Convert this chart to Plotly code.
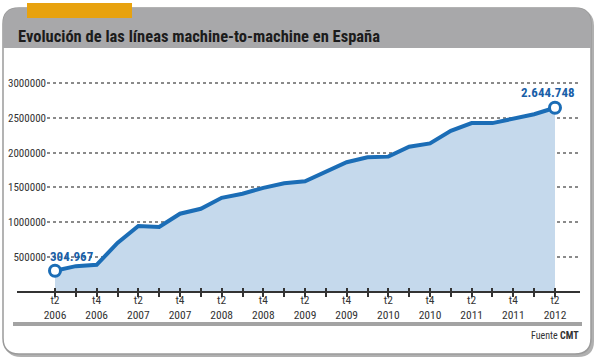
import plotly.graph_objects as go

# ---- data ----
periods = ["t2 2006", "t3 2006", "t4 2006",
           "t1 2007", "t2 2007", "t3 2007", "t4 2007",
           "t1 2008", "t2 2008", "t3 2008", "t4 2008",
           "t1 2009", "t2 2009", "t3 2009", "t4 2009",
           "t1 2010", "t2 2010", "t3 2010", "t4 2010",
           "t1 2011", "t2 2011", "t3 2011", "t4 2011",
           "t1 2012", "t2 2012"]
lines_m2m = [304967, 371000, 390000,
             704000, 947000, 933000, 1124000,
             1195000, 1352000, 1410000, 1495000,
             1562000, 1590000, 1719000, 1862000,
             1933000, 1943000, 2086000, 2133000,
             2314000, 2424000, 2424000, 2495000,
             2552000, 2644748]
y_ticks = [500000, 1000000, 1500000, 2000000, 2500000, 3000000]
quarter_text = [p.split(" ")[0] if p.startswith(("t2", "t4")) else "" for p in periods]
year_text = [p.split(" ")[1] if p.startswith(("t2", "t4")) else "" for p in periods]

title = "Evolución de las líneas machine-to-machine en España"
source = "Fuente <b>CMT</b>"

# ---- layout geometry (pixels) ----
W, H = 600, 363
L, R, T, B = 47, 580, 75, 292
PW, PH = R - L, B - T

def px(x):
    return (x - L) / PW

def py(y):
    return (B - y) / PH

def P(x, y):
    return f"{px(x):.5f},{py(y):.5f}"

def rrect(x0, y0, x1, y1, r):
    return (f"M {P(x0, y0 + r)} Q {P(x0, y0)} {P(x0 + r, y0)} L {P(x1 - r, y0)} "
            f"Q {P(x1, y0)} {P(x1, y0 + r)} L {P(x1, y1 - r)} Q {P(x1, y1)} {P(x1 - r, y1)} "
            f"L {P(x0 + r, y1)} Q {P(x0, y1)} {P(x0, y1 - r)} Z")

def toprect(x0, y0, x1, y1, r):
    return (f"M {P(x0, y1)} L {P(x0, y0 + r)} Q {P(x0, y0)} {P(x0 + r, y0)} L {P(x1 - r, y0)} "
            f"Q {P(x1, y0)} {P(x1, y0 + r)} L {P(x1, y1)} Z")

FONT = "Noto Sans Condensed, Roboto Condensed, Liberation Sans Narrow, Roboto, sans-serif"
BLUE = "#1b6db6"
FILL = "#c5d9ec"

def F(size, color="#333333", weight="normal"):
    return dict(family=FONT, size=size, color=color, weight=weight)

fmt = lambda v: f"{v:,}".replace(",", ".")

fig = go.Figure()
fig.add_trace(go.Scatter(
    x=periods, y=lines_m2m, mode="lines", fill="tozeroy",
    fillcolor=FILL, line=dict(color=BLUE, width=4), hoverinfo="skip"))
fig.add_trace(go.Scatter(
    x=[periods[0], periods[-1]], y=[lines_m2m[0], lines_m2m[-1]], mode="markers",
    marker=dict(size=11, color="white", line=dict(color=BLUE, width=3)),
    hoverinfo="skip"))
# invisible trace for the second (inside tick / year label) axis
fig.add_trace(go.Scatter(x=periods, y=lines_m2m, xaxis="x2", mode="lines",
                         line=dict(width=0), opacity=0, hoverinfo="skip"))

xrange = [-(55 - L) / 20.833, (R - 55) / 20.833]

shapes = [
    dict(type="path", xref="paper", yref="paper", path=rrect(5, 10, 594, 357, 16),
         fillcolor="#b0b0b0", line=dict(width=0), layer="below"),
    dict(type="path", xref="paper", yref="paper", path=rrect(3, 8, 591, 354, 16),
         fillcolor="white", line=dict(color="#9a9a9a", width=1.5), layer="below"),
    dict(type="path", xref="paper", yref="paper", path=toprect(3, 8, 591, 48, 16),
         fillcolor="#a8a8aa", line=dict(width=0), layer="below"),
    dict(type="rect", xref="paper", yref="paper", x0=px(27), x1=px(132), y0=py(18), y1=py(3),
         fillcolor="#e8a20e", line=dict(width=0), layer="below"),
    dict(type="line", xref="paper", yref="paper", x0=px(13), x1=px(582), y0=py(324), y1=py(324),
         line=dict(color="#a3a3a3", width=4)),
    dict(type="line", xref="paper", yref="paper", x0=px(17), x1=px(580), y0=0, y1=0,
         line=dict(color="#333333", width=2)),
]

annotations = [
    dict(xref="paper", yref="paper", x=px(16), y=py(36), xanchor="left", yanchor="middle",
         text=title, showarrow=False, font=F(16.5, "#1c1c1c", "bold")),
    dict(xref="paper", yref="paper", x=px(581), y=py(335), xanchor="right", yanchor="middle",
         text=source, showarrow=False, font=F(10)),
    dict(x=periods[0], y=lines_m2m[0], xref="x", yref="y", xanchor="left", yanchor="bottom",
         xshift=-7, yshift=5, text=fmt(lines_m2m[0]), showarrow=False,
         font=F(13, "#1a5fa8", "bold")),
    dict(x=periods[-1], y=lines_m2m[-1], xref="x", yref="y", xanchor="center", yanchor="bottom",
         xshift=-7, yshift=6, text=fmt(lines_m2m[-1]), showarrow=False,
         font=F(13, "#1a5fa8", "bold")),
]

fig.update_layout(
    width=W, height=H, autosize=False,
    margin=dict(l=L, r=W - R, t=T, b=H - B, pad=0),
    paper_bgcolor="white", plot_bgcolor="rgba(0,0,0,0)",
    showlegend=False,
    font=F(11.5),
    xaxis=dict(type="category", range=xrange, tickmode="array", tickvals=periods,
               ticktext=quarter_text, ticks="outside", ticklen=4, tickwidth=1.5,
               tickcolor="#333333", showgrid=False, showline=False, zeroline=False,
               automargin=False, ticklabelstandoff=-7, tickfont=F(11.5)),
    xaxis2=dict(type="category", range=xrange, overlaying="x", anchor="y", side="bottom",
                tickmode="array", tickvals=periods, ticktext=year_text,
                ticks="inside", ticklen=4, tickwidth=1.5, tickcolor="#333333",
                showgrid=False, showline=False, zeroline=False, showticklabels=True,
                automargin=False, ticklabelstandoff=14, tickfont=F(11.5)),
    yaxis=dict(range=[0, (B - T) / 69.67 * 1e6], tickmode="array", tickvals=y_ticks,
               tickformat="d", showgrid=True, griddash="dot", gridcolor="#8a8a8a",
               gridwidth=1.5, zeroline=False, showline=False, ticks="",
               automargin=False, tickfont=F(11)),
    shapes=shapes, annotations=annotations,
)

fig.write_html("out.html", config={"displayModeBar": False},
               post_script="document.body.style.margin='0';document.body.style.padding='0';")
